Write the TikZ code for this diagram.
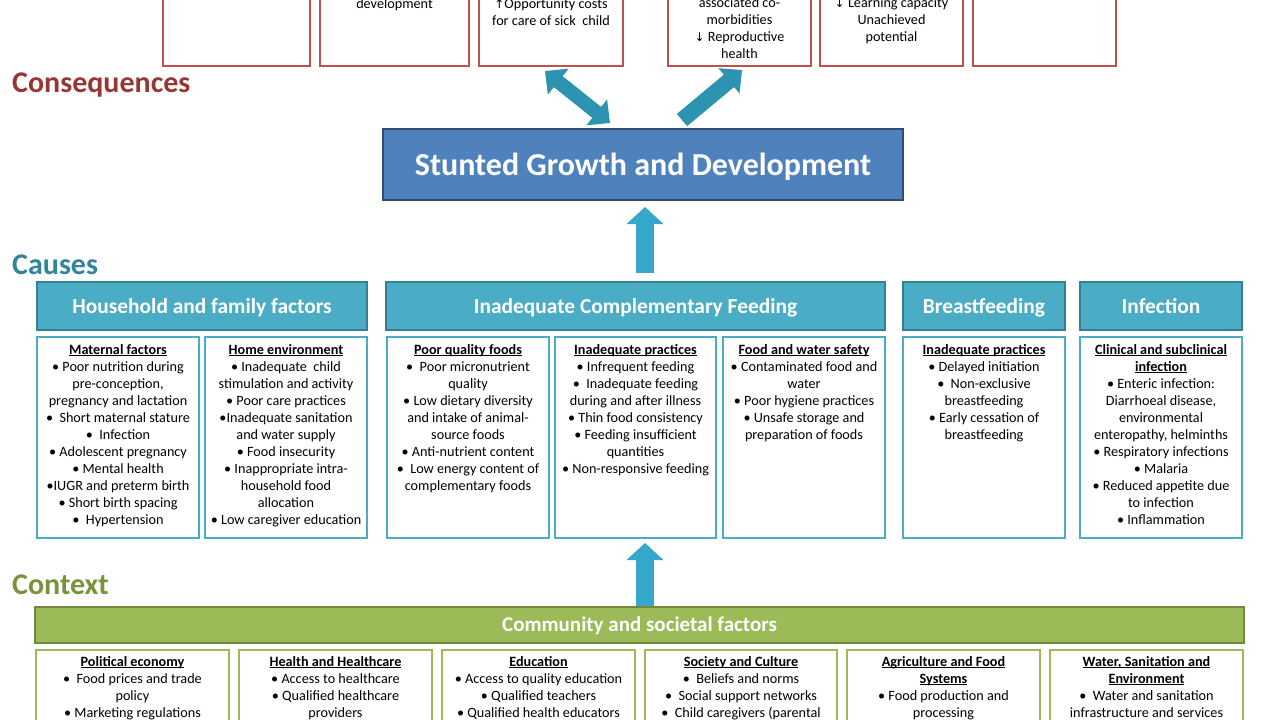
\documentclass[tikz,border=0pt]{standalone}
\usepackage{fontspec}
\setmainfont{Carlito}
\newfontfamily\symf{DejaVu Sans}
\usetikzlibrary{arrows.meta}

\definecolor{conred}{HTML}{C0504D}
\definecolor{conlbl}{HTML}{953735}
\definecolor{caulbl}{HTML}{31859C}
\definecolor{ctxlbl}{HTML}{77933C}
\definecolor{aqua}{HTML}{4BACC6}
\definecolor{aquadark}{HTML}{357F94}
\definecolor{stblue}{HTML}{4F81BD}
\definecolor{stline}{HTML}{2C4D75}
\definecolor{grn}{HTML}{9BBB59}
\definecolor{grndark}{HTML}{71893F}
\definecolor{teal}{HTML}{2C93B1}
\definecolor{tealup}{HTML}{35A7C8}

% underline sitting just below the baseline
\newcommand\ulx[1]{\setbox0\hbox{#1}\rlap{\rule[-1.8pt]{\wd0}{0.85pt}}\box0}
\newcommand\subhd[1]{\textbf{\ulx{#1}}}
\newcommand\up{{\symf\fontsize{12pt}{17pt}\selectfont↑}}
\newcommand\dn{{\symf\fontsize{12pt}{17pt}\selectfont↓}}

\tikzset{
  sz/.style 2 args={minimum width=#1, minimum height=#2},
  lbl/.style={anchor=base west, inner sep=0pt, font=\fontsize{30pt}{34pt}\selectfont\bfseries},
  conbox/.style={draw=conred, line width=2pt, fill=white, inner sep=0pt},
  hdr/.style={draw=aquadark, fill=aqua, line width=1.8pt, text=white, inner sep=0pt,
    text height=17pt, text depth=3pt,
    font=\fontsize{21.4pt}{24pt}\selectfont\bfseries},
  subbox/.style={draw=aqua, line width=2.2pt, fill=white, inner sep=0pt},
  ctxbar/.style={draw=grndark, fill=grn, line width=1.8pt, text=white, inner sep=0pt,
    text height=16.6pt, text depth=3pt,
    font=\fontsize{21pt}{24pt}\selectfont\bfseries},
  ctxbox/.style={draw=grn, line width=2.4pt, fill=white, inner sep=0pt},
  txt/.style={align=center, anchor=north, inner sep=0pt, font=\fontsize{14.2pt}{17pt}\selectfont},
  blk/.style={line width=#1, -{Triangle[width=2*#1, length=17pt]}},
  dblk/.style={line width=#1, {Triangle[width=2.3*#1, length=17pt]}-{Triangle[width=2.3*#1, length=17pt]}},
}

\begin{document}
\begin{tikzpicture}[x=1pt, y=-1pt]
\useasboundingbox (0,0) rectangle (1280,720);
\clip (0,0) rectangle (1280,720);
\fill[white] (0,0) rectangle (1280,720);

% ---------- Consequences ----------
\node[conbox, sz={147pt}{126pt}] (k1) at (236.5,3) {};
\node[conbox, sz={149pt}{126pt}] (k2) at (394.5,3) {};
\node[conbox, sz={144pt}{126pt}] (k3) at (551,3) {};
\node[conbox, sz={143pt}{126pt}] (k4) at (739.5,3) {};
\node[conbox, sz={143pt}{126pt}] (k5) at (891.5,3) {};
\node[conbox, sz={143pt}{126pt}] (k6) at (1044.5,3) {};

\node[txt] (k2t) at (394.5,-1.5) {development};
\node[txt] (k3t) at (551,-1.5) {\up Opportunity costs\\for care of sick~ child};
\node[txt] (k4t) at (739.5,-2.5) {associated co-\\morbidities\\\dn\ Reproductive\\health};
\node[txt] (k5t) at (891.5,-2.5) {\dn\ Learning capacity\\Unachieved\\potential};

\node[lbl, text=conlbl] (lcon) at (12,92) {Consequences};

\node[draw=stline, fill=stblue, line width=1.5pt, sz={520pt}{71pt}, text=white,
      text height=24pt, text depth=2.4pt,
      font=\fontsize{32pt}{36pt}\selectfont\bfseries] (st) at (643,164.5)
      {Stunted Growth and Development};

% arrows between the outcome and its consequences
\coordinate (d1a) at (545,71);
\coordinate (d1b) at (610,123);
\coordinate (d2a) at (682,120);
\coordinate (d2b) at (742,70);
\draw[dblk=14pt, teal] (d1a) -- (d1b);
\draw[blk=16pt, teal] (d2a) -- (d2b);

% ---------- Causes ----------
\node[lbl, text=caulbl] (lcau) at (12,274) {Causes};

\coordinate (u1a) at (645,273);
\coordinate (u1b) at (645,207);
\draw[blk=18pt, tealup] (u1a) -- (u1b);

\node[hdr, sz={330pt}{48pt}] (hh)  at (202,306)   {Household and family factors};
\node[hdr, sz={499pt}{48pt}] (icf) at (635.5,306) {Inadequate Complementary Feeding};
\node[hdr, sz={162pt}{48pt}] (bf)  at (984,306)   {Breastfeeding};
\node[hdr, sz={162pt}{48pt}] (inf) at (1161,306)  {Infection};

\node[subbox, sz={162pt}{201pt}] (s1) at (118,437.5) {};
\node[subbox, sz={162pt}{201pt}] (s2) at (286,437.5) {};
\node[subbox, sz={162pt}{201pt}] (s3) at (468,437.5) {};
\node[subbox, sz={161pt}{201pt}] (s4) at (635.5,437.5) {};
\node[subbox, sz={162pt}{201pt}] (s5) at (804,437.5) {};
\node[subbox, sz={162pt}{201pt}] (s6) at (984,437.5) {};
\node[subbox, sz={162pt}{201pt}] (s7) at (1161,437.5) {};

\node[txt] (s1t) at (118,344) {\subhd{Maternal factors}\\
  • Poor nutrition during\\pre-conception,\\pregnancy and lactation\\
  • ~Short maternal stature\\• ~Infection\\• Adolescent pregnancy\\
  • Mental health\\•IUGR and preterm birth\\• Short birth spacing\\• ~Hypertension};
\node[txt] (s2t) at (286,344) {\subhd{Home environment}\\
  • Inadequate~ child\\stimulation and activity\\• Poor care practices\\
  •Inadequate sanitation\\and water supply\\• Food insecurity\\
  • Inappropriate intra-\\household food\\allocation\\• Low caregiver education};
\node[txt] (s3t) at (468,344) {\subhd{Poor quality foods}\\
  • ~Poor micronutrient\\quality\\• Low dietary diversity\\and intake of animal-\\
  source foods\\• Anti-nutrient content\\• ~Low energy content of\\complementary foods};
\node[txt] (s4t) at (635.5,344) {\subhd{Inadequate practices}\\
  • Infrequent feeding\\• ~Inadequate feeding\\during and after illness\\
  • Thin food consistency\\• Feeding insufficient\\quantities\\• Non-responsive feeding};
\node[txt] (s5t) at (804,344) {\subhd{Food and water safety}\\
  • Contaminated food and\\water\\• Poor hygiene practices\\
  • Unsafe storage and\\preparation of foods};
\node[txt] (s6t) at (984,344) {\subhd{Inadequate practices}\\
  • Delayed initiation\\• ~Non-exclusive\\breastfeeding\\• Early cessation of\\breastfeeding};
\node[txt] (s7t) at (1161,344) {\subhd{Clinical and subclinical}\\\subhd{infection}\\
  • Enteric infection:\\Diarrhoeal disease,\\environmental\\enteropathy, helminths\\
  • Respiratory infections\\• Malaria\\• Reduced appetite due\\to infection\\• Inflammation};

% ---------- Context ----------
\node[lbl, text=ctxlbl] (lctx) at (12,594) {Context};

\coordinate (u2a) at (645,606);
\coordinate (u2b) at (645,543);
\draw[blk=18pt, tealup] (u2a) -- (u2b);

\node[ctxbar, sz={1209pt}{36pt}] (cs) at (639.5,625) {Community and societal factors};

\node[ctxbox, sz={193pt}{90pt}] (g1) at (132.5,695) {};
\node[ctxbox, sz={193pt}{90pt}] (g2) at (335.5,695) {};
\node[ctxbox, sz={193pt}{90pt}] (g3) at (538.5,695) {};
\node[ctxbox, sz={192pt}{90pt}] (g4) at (741,695) {};
\node[ctxbox, sz={193pt}{90pt}] (g5) at (943.5,695) {};
\node[ctxbox, sz={193pt}{90pt}] (g6) at (1146.5,695) {};

\node[txt] (g1t) at (132.5,656) {\subhd{Political economy}\\
  • ~Food prices and trade\\policy\\• Marketing regulations};
\node[txt] (g2t) at (335.5,656) {\subhd{Health and Healthcare}\\
  • Access to healthcare\\• Qualified healthcare\\providers};
\node[txt] (g3t) at (538.5,656) {\subhd{Education}\\
  • Access to quality education\\• Qualified teachers\\• Qualified health educators};
\node[txt] (g4t) at (741,656) {\subhd{Society and Culture}\\
  • ~Beliefs and norms\\• ~Social support networks\\• ~Child caregivers (parental};
\node[txt] (g5t) at (943.5,656) {\subhd{Agriculture and Food}\\\subhd{Systems}\\
  • Food production and\\processing};
\node[txt] (g6t) at (1146.5,656) {\subhd{Water, Sanitation and}\\\subhd{Environment}\\
  • ~Water and sanitation\\infrastructure and services};
\end{tikzpicture}
\end{document}
